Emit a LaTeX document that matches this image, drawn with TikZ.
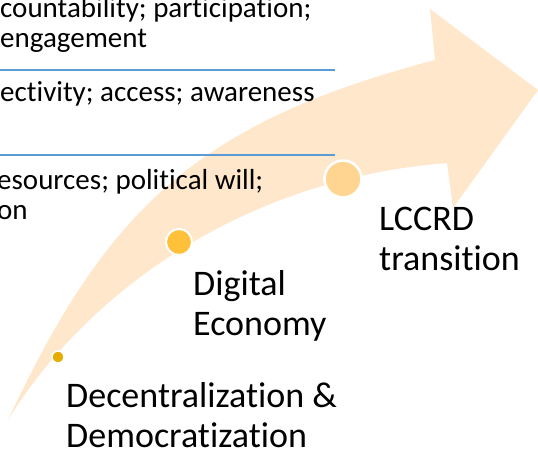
\documentclass[tikz,border=0pt]{standalone}
\usepackage{fontspec}
\setmainfont{Carlito}[Ligatures=NoCommon]
\definecolor{arrowfill}{HTML}{FFE7CC}
\definecolor{rulerblue}{HTML}{5B9BD5}
\definecolor{dotA}{HTML}{E6AC00}
\definecolor{dotB}{HTML}{FFC03A}
\definecolor{dotC}{HTML}{FFD591}
\begin{document}
\begin{tikzpicture}[x=1pt,y=-1pt,
  small/.style={font=\fontsize{29}{30}\selectfont, inner sep=0pt, anchor=base west, align=left},
  big/.style={font=\fontsize{36}{40}\selectfont, inner sep=0pt, anchor=base west, align=left},
  rule/.style={draw=rulerblue, line width=2pt},
  dot/.style={circle, draw=white, inner sep=0pt}]
\useasboundingbox (0,0) rectangle (538,451);
\clip (0,0) rectangle (538,451);
% curved arrow
\fill[arrowfill] (8,420) .. controls (107,208.5) and (197.5,122.5) .. (435,60)
  -- (430,9) -- (538,90) -- (453,208) -- (447,163)
  .. controls (230,180) and (78,305) .. (8,420) -- cycle;
% rules
\coordinate (r1a) at (0,70); \coordinate (r1b) at (335,70);
\coordinate (r2a) at (0,155); \coordinate (r2b) at (335,155);
\draw[rule] (r1a) -- (r1b);
\draw[rule] (r2a) -- (r2b);
% left texts
\node[small] (t1) at (0,47) {countability; participation;\\engagement};
\node[small] (t2) at (0,101) {ectivity; access; awareness};
\node[small] (t3) at (-3,219) {esources; political will;\\on};
% dots
\node[dot, fill=dotA, line width=1.5pt, minimum size=12pt] (d1) at (58,357) {};
\node[dot, fill=dotB, line width=2pt, minimum size=26pt] (d2) at (179,242) {};
\node[dot, fill=dotC, line width=2.5pt, minimum size=37pt] (d3) at (343,179) {};
% labels
\node[big] (l1) at (66,447) {Decentralization \&\\Democratization};
\node[big] (l2) at (193,335) {Digital\\Economy};
\node[big] (l3) at (379,270) {LCCRD\\transition};
\end{tikzpicture}
\end{document}
